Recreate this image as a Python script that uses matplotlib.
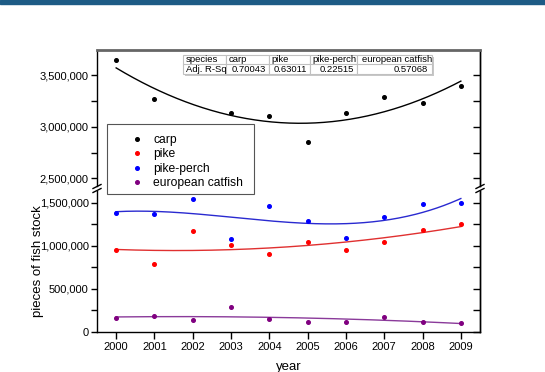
import numpy as np
import matplotlib
matplotlib.use('Agg')
import matplotlib.pyplot as plt
from matplotlib.lines import Line2D
from matplotlib.patches import Rectangle
from matplotlib.ticker import MultipleLocator, FuncFormatter

plt.rcParams['font.family'] = ['Liberation Sans', 'DejaVu Sans']

years = [2000, 2001, 2002, 2003, 2004, 2005, 2006, 2007, 2008, 2009]
carp_years = [2000, 2001, 2003, 2004, 2005, 2006, 2007, 2008, 2009]
carp = [3645000, 3265000, 3133000, 3104000, 2853000, 3133000, 3290000, 3232000, 3397000]
pike = [955000, 785000, 1168000, 1006000, 901000, 1048000, 951000, 1044000, 1183000, 1257000]
pike_perch = [1384000, 1372000, 1543000, 1075000, 1465000, 1288000, 1094000, 1334000, 1485000, 1497000]
catfish = [159000, 189000, 139000, 286000, 147000, 116000, 116000, 174000, 112000, 104000]
species = ['carp', 'pike', 'pike-perch', 'european catfish']
adj_r2 = ['0.70043', '0.63011', '0.22515', '0.57068']

W, H = 545, 372
fig = plt.figure(figsize=(W / 100, H / 100), dpi=100)


def fx(px):
    return px / W


def fy(py):
    return 1 - py / H


fig.add_artist(Rectangle((0, fy(4)), 1, 1 - fy(4), transform=fig.transFigure, color='#1d5b85', zorder=0))

L, R = 97, 480
ax_t = fig.add_axes([fx(L), fy(186), fx(R) - fx(L), fy(49.5) - fy(186)])
ax_b = fig.add_axes([fx(L), fy(332), fx(R) - fx(L), fy(191) - fy(332)])

ax_t.set_ylim(2427500, 3746400)
ax_b.set_ylim(0, 1635700)
for ax in (ax_t, ax_b):
    ax.set_xlim(1999.5, 2009.5)
    ax.yaxis.set_major_locator(MultipleLocator(500000))
    ax.yaxis.set_minor_locator(MultipleLocator(250000))
    ax.yaxis.set_major_formatter(FuncFormatter(lambda v, p: '{:,.0f}'.format(v)))
    ax.tick_params(axis='y', which='both', direction='out', length=4, width=1, labelsize=8, pad=2)
    sec = ax.secondary_yaxis('right')
    sec.yaxis.set_major_locator(MultipleLocator(500000))
    sec.yaxis.set_minor_locator(MultipleLocator(250000))
    sec.tick_params(axis='y', which='both', direction='in', length=5, width=1, labelright=False)
    sec.spines['right'].set_linewidth(1)
    for s in ax.spines.values():
        s.set_linewidth(1)

ax_t.spines['bottom'].set_visible(False)
ax_t.spines['top'].set_color('#666666')
ax_t.spines['top'].set_linewidth(2)
ax_t.tick_params(axis='x', which='both', bottom=False, labelbottom=False)
ax_b.spines['top'].set_visible(False)
ax_b.set_xticks(years)
ax_b.tick_params(axis='x', direction='out', length=5, width=1, labelsize=8, pad=2)

xs = np.linspace(2000, 2009, 200)


def draw(ax, x, y, pc, lc, deg):
    ax.plot(x, y, 'o', color=pc, ms=2.6, zorder=3)
    p = np.polynomial.Polynomial.fit(np.asarray(x, float), np.asarray(y, float), deg)
    ax.plot(xs, p(xs), '-', color=lc, lw=1.0, zorder=2)


draw(ax_t, carp_years, carp, 'black', 'black', 2)
draw(ax_b, years, pike, '#ff0000', '#e03030', 2)
draw(ax_b, years, pike_perch, '#0000ff', '#2a2ad0', 3)
draw(ax_b, years, catfish, '#800080', '#8a3a9a', 2)

ax_b.set_xlabel('year', fontsize=9.5, labelpad=7)
ax_b.set_ylabel('pieces of fish stock', fontsize=9.5)
ax_b.yaxis.set_label_coords((44 - L) / (R - L), 0.5)

# break marks
for x in (L, R):
    for yb in (186.5, 190.5):
        fig.add_artist(Line2D([fx(x - 4), fx(x + 4)], [fy(yb + 2), fy(yb - 2)],
                              transform=fig.transFigure, color='black', lw=1))

# legend: frame drawn as a separate box
fig.add_artist(Rectangle((fx(107), fy(194)), fx(254) - fx(107), fy(124) - fy(194),
                         transform=fig.transFigure, facecolor='white', edgecolor='#555555',
                         lw=0.8, zorder=4))
handles = [Line2D([], [], ls='none', marker='o', ms=2.6, color=c)
           for c in ('black', '#ff0000', '#0000ff', '#800080')]
leg = fig.legend(handles, species, loc='upper left', bbox_to_anchor=(fx(124), fy(134)),
                 fontsize=8.7, frameon=False, borderpad=0, handlelength=2.2,
                 handletextpad=0.2, labelspacing=0.2, borderaxespad=0)
leg.set_zorder(5)

# table
cw = [43.4, 42.3, 41.0, 47.3, 75.0]
tot = sum(cw)
tab_w = (432 - 183) / (R - L)
tab_x = (183 - L) / (R - L)
th = 186 - 49.5
tab_y = (186 - 74) / th
tab_h = (74 - 55) / th
ax_t.add_patch(Rectangle((fx(185), fy(76)), fx(432) - fx(183), fy(55) - fy(74),
                         transform=fig.transFigure, facecolor='#c8c8c8', edgecolor='none',
                         zorder=4, clip_on=False))
tbl = ax_t.table(cellText=[['species'] + species, ['Adj. R-Sq'] + adj_r2],
                 cellLoc='left', colWidths=[c / tot * tab_w for c in cw],
                 bbox=[tab_x, tab_y, tab_w, tab_h], zorder=5)
tbl.auto_set_font_size(False)
tbl.set_fontsize(6.8)
for (r, c), cell in tbl.get_celld().items():
    cell.set_edgecolor('#c0c0c0')
    cell.set_linewidth(0.8)
    cell.set_facecolor('white')
    cell.PAD = 0.06
    if r == 1 and c > 0:
        cell._loc = 'right'
        cell.get_text().set_ha('right')

fig.savefig('out.png', dpi=100)
